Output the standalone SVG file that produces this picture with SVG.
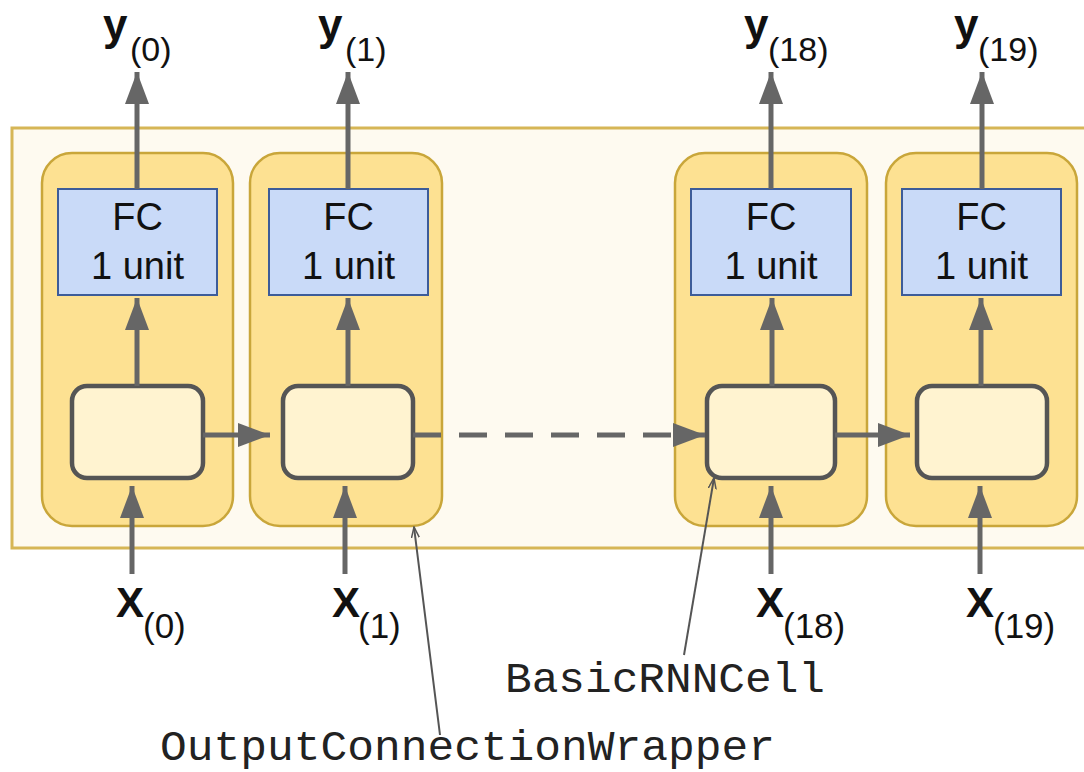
<svg xmlns="http://www.w3.org/2000/svg" width="1084" height="772" viewBox="0 0 1084 772">
<style>
.band{fill:#fefaf0;stroke:#d6b656;stroke-width:3}
.wrap{fill:#fde192;stroke:#c9a63a;stroke-width:2.5}
.fc{fill:#c9daf8;stroke:#3d5c99;stroke-width:2}
.cell{fill:#fff3d0;stroke:#555555;stroke-width:4.5}
.arr{stroke:#666666;stroke-width:5;fill:none}
.ptr{stroke:#555555;stroke-width:2;fill:none}
.lbl{font-family:"Liberation Sans",Arial,sans-serif;fill:#111111}
.fct{font-family:"Liberation Sans",Arial,sans-serif;font-size:38px;fill:#111111;text-anchor:middle}
.mono{font-family:"Liberation Mono","Courier New",monospace;font-size:42px;fill:#222222}
</style>
<defs>
<marker id="ah" markerUnits="userSpaceOnUse" markerWidth="34" markerHeight="26" refX="32" refY="12" orient="auto">
<path d="M0,0 L32,12 L0,24 z" fill="#666666"/>
</marker>
<marker id="sh" markerUnits="userSpaceOnUse" markerWidth="12" markerHeight="10" refX="11" refY="4" orient="auto">
<path d="M0,0 L11,4 L0,8" fill="none" stroke="#555555" stroke-width="1.5"/>
</marker>
</defs>
<rect width="1084" height="772" fill="#ffffff"/>
<rect class="band" x="12" y="128" width="1090" height="420"/>

<g id="cell0">
<rect class="wrap" x="42" y="153" width="191" height="373" rx="30"/>
<rect class="fc" x="58" y="189" width="159" height="106"/>
<text class="fct" x="137.5" y="230">FC</text>
<text class="fct" x="137.5" y="279">1 unit</text>
<rect class="cell" x="72" y="386" width="131" height="92" rx="15"/>
</g>
<g id="cell1">
<rect class="wrap" x="250" y="153" width="192" height="373" rx="30"/>
<rect class="fc" x="269" y="189" width="159" height="106"/>
<text class="fct" x="348.5" y="230">FC</text>
<text class="fct" x="348.5" y="279">1 unit</text>
<rect class="cell" x="283" y="386" width="130" height="92" rx="15"/>
</g>
<g id="cell18">
<rect class="wrap" x="675" y="153" width="192" height="373" rx="30"/>
<rect class="fc" x="691" y="189" width="160" height="106"/>
<text class="fct" x="771" y="230">FC</text>
<text class="fct" x="771" y="279">1 unit</text>
<rect class="cell" x="707" y="386" width="128" height="92" rx="15"/>
</g>
<g id="cell19">
<rect class="wrap" x="886" y="153" width="191" height="373" rx="30"/>
<rect class="fc" x="902" y="189" width="159" height="106"/>
<text class="fct" x="981.5" y="230">FC</text>
<text class="fct" x="981.5" y="279">1 unit</text>
<rect class="cell" x="917" y="386" width="130" height="92" rx="15"/>
</g>

<g id="connectors">
<line class="arr" x1="137" y1="189" x2="137" y2="72" marker-end="url(#ah)"/>
<line class="arr" x1="348" y1="189" x2="348" y2="72" marker-end="url(#ah)"/>
<line class="arr" x1="771" y1="189" x2="771" y2="72" marker-end="url(#ah)"/>
<line class="arr" x1="982" y1="189" x2="982" y2="72" marker-end="url(#ah)"/>
<line class="arr" x1="137" y1="386" x2="137" y2="298" marker-end="url(#ah)"/>
<line class="arr" x1="348" y1="386" x2="348" y2="298" marker-end="url(#ah)"/>
<line class="arr" x1="772" y1="386" x2="772" y2="298" marker-end="url(#ah)"/>
<line class="arr" x1="981" y1="386" x2="981" y2="298" marker-end="url(#ah)"/>
<line class="arr" x1="132" y1="574" x2="132" y2="486" marker-end="url(#ah)"/>
<line class="arr" x1="345" y1="574" x2="345" y2="486" marker-end="url(#ah)"/>
<line class="arr" x1="771" y1="574" x2="771" y2="486" marker-end="url(#ah)"/>
<line class="arr" x1="980" y1="574" x2="980" y2="486" marker-end="url(#ah)"/>
<line class="arr" x1="203" y1="435" x2="270" y2="435" marker-end="url(#ah)"/>
<line class="arr" x1="413" y1="435" x2="705" y2="435" stroke-dasharray="28,18" marker-end="url(#ah)"/>
<line class="arr" x1="835" y1="435" x2="910" y2="435" marker-end="url(#ah)"/>
<line class="ptr" x1="440" y1="735" x2="414" y2="527" marker-end="url(#sh)"/>
<line class="ptr" x1="684" y1="655" x2="714" y2="478" marker-end="url(#sh)"/>
</g>

<g id="labels">
<text class="lbl" x="103" y="40" font-size="44" font-weight="bold">y</text>
<text class="lbl" x="130" y="61" font-size="34">(0)</text>
<text class="lbl" x="318" y="40" font-size="44" font-weight="bold">y</text>
<text class="lbl" x="345" y="61" font-size="34">(1)</text>
<text class="lbl" x="744" y="40" font-size="44" font-weight="bold">y</text>
<text class="lbl" x="768" y="61" font-size="34">(18)</text>
<text class="lbl" x="954" y="40" font-size="44" font-weight="bold">y</text>
<text class="lbl" x="978" y="61" font-size="34">(19)</text>
<text class="lbl" x="116" y="617" font-size="42" font-weight="bold">X</text>
<text class="lbl" x="143" y="638" font-size="35">(0)</text>
<text class="lbl" x="332" y="617" font-size="42" font-weight="bold">X</text>
<text class="lbl" x="358" y="638" font-size="35">(1)</text>
<text class="lbl" x="756" y="617" font-size="42" font-weight="bold">X</text>
<text class="lbl" x="783" y="638" font-size="35">(18)</text>
<text class="lbl" x="966" y="617" font-size="42" font-weight="bold">X</text>
<text class="lbl" x="993" y="638" font-size="35">(19)</text>
<text class="mono" x="505" y="692" textLength="320" lengthAdjust="spacingAndGlyphs">BasicRNNCell</text>
<text class="mono" x="160" y="760" textLength="615" lengthAdjust="spacingAndGlyphs">OutputConnectionWrapper</text>
</g>
</svg>
